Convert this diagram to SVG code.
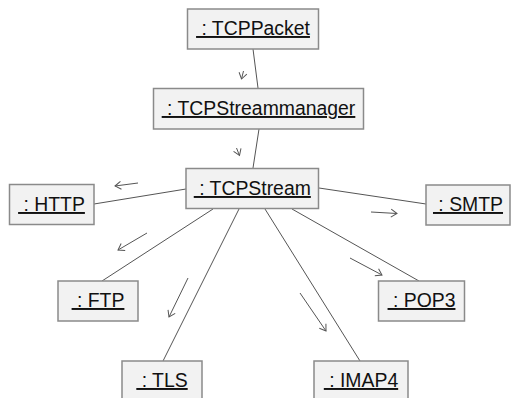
<svg xmlns="http://www.w3.org/2000/svg" width="511" height="398" viewBox="0 0 511 398">
<defs>
<style>
.box{fill:#f2f2f2;stroke:#8a8a8a;stroke-width:1.5}
.lbl{font-family:"Liberation Sans",Arial,sans-serif;font-size:19.4px;fill:#111;text-anchor:middle;text-decoration:underline;white-space:pre}
.con{stroke:#555;stroke-width:1;fill:none}
.arr{stroke:#555;stroke-width:1;fill:none;marker-end:url(#ah)}
</style>
<marker id="ah" markerWidth="12" markerHeight="12" refX="9" refY="6" orient="auto" markerUnits="userSpaceOnUse" viewBox="0 0 12 12">
<path d="M3,2 L9,6 L3,10" fill="none" stroke="#555" stroke-width="1"/>
</marker>
</defs>
<g id="connectors">
<line class="con" x1="253" y1="49" x2="258" y2="88"/>
<line class="con" x1="259" y1="129" x2="253" y2="168"/>
<line class="con" x1="94" y1="204" x2="186" y2="189"/>
<line class="con" x1="319" y1="188" x2="426" y2="204"/>
<line class="con" x1="213" y1="209" x2="102" y2="281"/>
<line class="con" x1="239" y1="209" x2="163" y2="361"/>
<line class="con" x1="292" y1="209" x2="419" y2="281"/>
<line class="con" x1="265" y1="209" x2="360" y2="361"/>
<line class="arr" x1="243.5" y1="71" x2="241.5" y2="79"/>
<line class="arr" x1="236.5" y1="148" x2="239.5" y2="155.5"/>
<line class="arr" x1="138" y1="183" x2="115" y2="186"/>
<line class="arr" x1="371" y1="212" x2="397" y2="213.5"/>
<line class="arr" x1="147" y1="233" x2="118" y2="250"/>
<line class="arr" x1="188" y1="278" x2="169" y2="317"/>
<line class="arr" x1="350" y1="258" x2="382" y2="275"/>
<line class="arr" x1="300" y1="293" x2="326" y2="331"/>
</g>
<g id="tcppacket"><rect class="box" x="187.5" y="9" width="131" height="40"/><text class="lbl" x="253" y="35"> : TCPPacket</text></g>
<g id="tcpstreammanager"><rect class="box" x="153.5" y="88.5" width="210" height="40.5"/><text class="lbl" x="258.5" y="115"> : TCPStreammanager</text></g>
<g id="tcpstream"><rect class="box" x="186" y="168.5" width="132.5" height="40"/><text class="lbl" x="252.3" y="195"> : TCPStream</text></g>
<g id="http"><rect class="box" x="9.5" y="184.5" width="84.5" height="40"/><text class="lbl" x="51.5" y="211"> : HTTP</text></g>
<g id="smtp"><rect class="box" x="426" y="185" width="84" height="40"/><text class="lbl" x="468" y="211"> : SMTP</text></g>
<g id="ftp"><rect class="box" x="58" y="281" width="80" height="40"/><text class="lbl" x="98" y="307"> : FTP</text></g>
<g id="pop3"><rect class="box" x="378.5" y="281" width="86" height="40"/><text class="lbl" x="421.5" y="307"> : POP3</text></g>
<g id="tls"><rect class="box" x="122" y="361" width="80" height="40"/><text class="lbl" x="162" y="387"> : TLS</text></g>
<g id="imap4"><rect class="box" x="314" y="361" width="94" height="40"/><text class="lbl" x="361" y="387"> : IMAP4</text></g>
</svg>
